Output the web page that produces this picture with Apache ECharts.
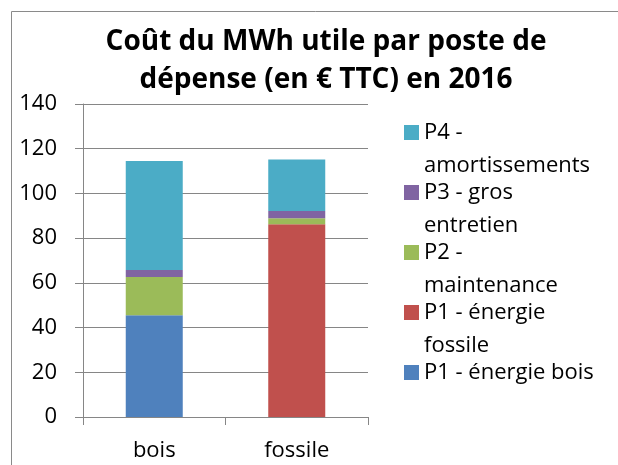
<!DOCTYPE html>
<html>
<head>
<meta charset="utf-8">
<script src="https://cdn.jsdelivr.net/npm/echarts@6/dist/echarts.min.js"></script>
<style>
html,body{margin:0;padding:0;background:#fff;}
#c{width:618px;height:465px;}
</style>
</head>
<body>
<div id="c"></div>
<script>
var categories = ['bois', 'fossile'];
var p1Bois = [45.5, null];
var p1Fossile = [null, 86.2];
var p2Maintenance = [17.1, 2.7];
var p3GrosEntretien = [3.1, 3.2];
var p4Amortissements = [48.8, 23.1];
var yTicks = [0, 20, 40, 60, 80, 100, 120, 140];

var seriesNames = ['P1 - énergie bois', 'P1 - énergie fossile', 'P2 - maintenance', 'P3 - gros entretien', 'P4 - amortissements'];
var legendLines = {
  'P4 - amortissements': '\nP4 -\namortissements',
  'P3 - gros entretien': '\nP3 - gros\nentretien',
  'P2 - maintenance': '\nP2 -\nmaintenance',
  'P1 - énergie fossile': '\nP1 - énergie\nfossile',
  'P1 - énergie bois': '\nP1 - énergie bois\n '
};
var colors = ['#4F81BD', '#C0504D', '#9BBB59', '#8064A2', '#4BACC6'];
var seriesData = [p1Bois, p1Fossile, p2Maintenance, p3GrosEntretien, p4Amortissements];

var FONT = '"Open Sans", Lato, sans-serif';
var chart = echarts.init(document.getElementById('c'), null, {renderer: 'canvas'});
var option = {
  animation: false,
  backgroundColor: '#fff',
  title: {
    text: 'Coût du MWh utile par poste de\ndépense (en € TTC) en 2016',
    left: 326,
    top: 23,
    textAlign: 'center',
    padding: 0,
    textStyle: {fontFamily: FONT, fontWeight: 'bold', fontSize: 28, lineHeight: 38, color: '#000'}
  },
  graphic: [{
    type: 'rect', silent: true,
    shape: {x: 11.5, y: 11.5, width: 700, height: 600},
    style: {fill: 'none', stroke: '#8a8a8a', lineWidth: 1}
  }],
  legend: {
    orient: 'vertical',
    left: 404,
    top: 83,
    padding: 0,
    itemGap: -39,
    itemWidth: 15,
    itemHeight: 15,
    icon: 'rect',
    data: ['P4 - amortissements', 'P3 - gros entretien', 'P2 - maintenance', 'P1 - énergie fossile', 'P1 - énergie bois'],
    formatter: function (n) { return legendLines[n]; },
    textStyle: {fontFamily: FONT, fontSize: 22, lineHeight: 33, color: '#000'}
  },
  grid: {left: 83, right: 250, top: 104, bottom: 48, containLabel: false},
  xAxis: {
    type: 'category',
    data: categories,
    axisLine: {lineStyle: {color: '#868686', width: 1}},
    axisTick: {show: true, length: 8, lineStyle: {color: '#868686'}},
    axisLabel: {fontFamily: FONT, fontSize: 22, color: '#000', margin: 23}
  },
  yAxis: {
    type: 'value',
    min: 0, max: 140, interval: 20,
    axisLine: {show: true, lineStyle: {color: '#868686', width: 1}},
    axisTick: {show: true, length: 8, lineStyle: {color: '#868686'}},
    axisLabel: {fontFamily: FONT, fontSize: 22, color: '#000', margin: 26,
      formatter: function (v) { return yTicks.indexOf(v) >= 0 ? String(v) : ''; }},
    splitLine: {show: true, lineStyle: {color: '#868686', width: 1}}
  },
  series: seriesNames.map(function (n, i) {
    return {
      name: n, type: 'bar', stack: 'total', barWidth: 57,
      itemStyle: {color: colors[i]},
      data: seriesData[i]
    };
  })
};
chart.setOption(option);
</script>
</body>
</html>
